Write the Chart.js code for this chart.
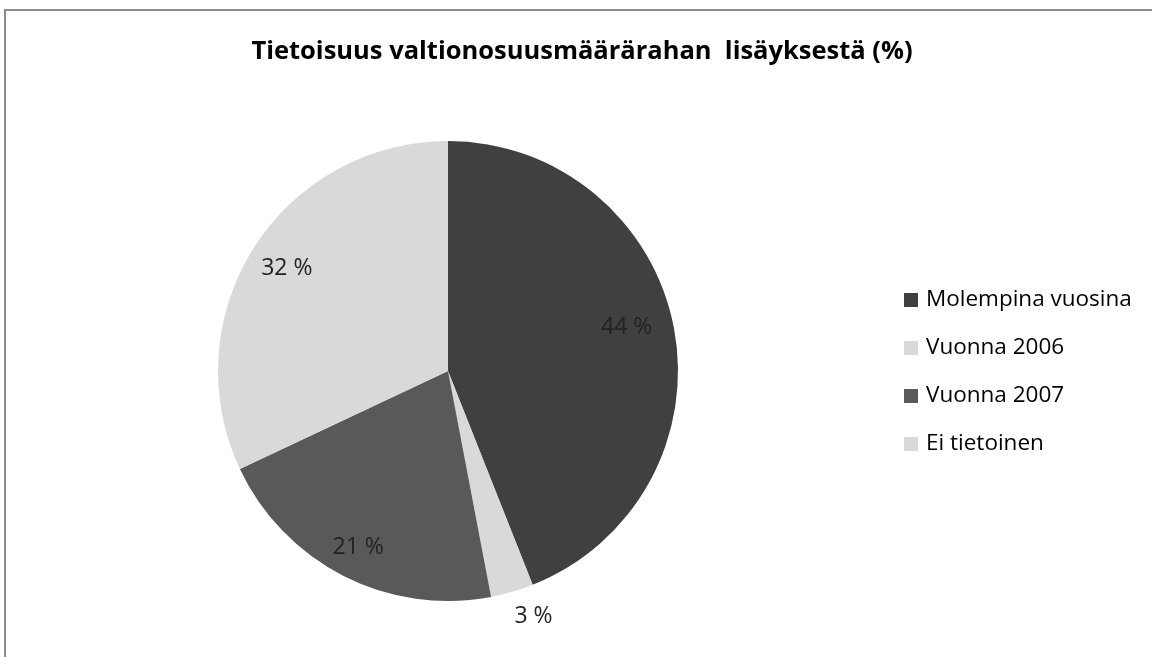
<!DOCTYPE html>
<html>
<head>
<meta charset="utf-8">
<script src="https://cdn.jsdelivr.net/npm/chart.js@4.4.1/dist/chart.umd.min.js"></script>
<style>
  html, body { margin: 0; padding: 0; background: #fff; overflow: hidden; }
  #wrap { position: absolute; left: 0; top: 0; width: 1152px; height: 657px; }
  #frame { position: absolute; left: 4px; top: 9px; width: 1300px; height: 800px;
           border-left: 2px solid #8c8c8c; border-top: 2px solid #8c8c8c; pointer-events: none; }
</style>
</head>
<body>
<div id="wrap">
  <canvas id="c" width="1152" height="657"></canvas>
  <div id="frame"></div>
</div>
<script>
const titleText = 'Tietoisuus valtionosuusmäärärahan  lisäyksestä (%)';
const categories = ['Molempina vuosina', 'Vuonna 2006', 'Vuonna 2007', 'Ei tietoinen'];
const values = [44, 3, 21, 32];
const colors = ['#404040', '#d9d9d9', '#595959', '#d9d9d9'];
const labelRadius = [0.80, 1.13, 0.86, 0.83];
const labelAngleShift = [-3, -3, 0, 0];

const FONT = '"Open Sans", Lato, sans-serif';

const titlePlugin = {
  id: 'customTitle',
  afterDraw(chart) {
    const ctx = chart.ctx;
    ctx.save();
    ctx.font = 'bold 25.5px ' + FONT;
    ctx.fillStyle = '#000';
    ctx.textAlign = 'center';
    ctx.textBaseline = 'alphabetic';
    ctx.fillText(titleText, 582, 59);
    ctx.restore();
  }
};

const labelPlugin = {
  id: 'sliceLabels',
  afterDatasetsDraw(chart) {
    const ctx = chart.ctx;
    const meta = chart.getDatasetMeta(0);
    ctx.save();
    ctx.font = '23px ' + FONT;
    ctx.fillStyle = '#222';
    ctx.textAlign = 'center';
    ctx.textBaseline = 'middle';
    meta.data.forEach((arc, i) => {
      const mid = (arc.startAngle + arc.endAngle) / 2 + labelAngleShift[i] * Math.PI / 180;
      const r = arc.outerRadius * labelRadius[i];
      const x = arc.x + Math.cos(mid) * r;
      const y = arc.y + Math.sin(mid) * r;
      ctx.fillText(values[i] + ' %', x, y);
    });
    ctx.restore();
  }
};

const legendPlugin = {
  id: 'customLegend',
  afterDraw(chart) {
    const ctx = chart.ctx;
    ctx.save();
    ctx.font = '22.5px ' + FONT;
    ctx.textBaseline = 'alphabetic';
    ctx.textAlign = 'left';
    categories.forEach((name, i) => {
      const base = 306 + i * 48;
      ctx.fillStyle = colors[i];
      ctx.fillRect(904, base - 13, 14, 14);
      ctx.fillStyle = '#000';
      ctx.fillText(name, 926, base);
    });
    ctx.restore();
  }
};

function build() {
  new Chart(document.getElementById('c'), {
    type: 'pie',
    data: {
      labels: categories,
      datasets: [{
        data: values,
        backgroundColor: colors,
        borderWidth: 0
      }]
    },
    options: {
      responsive: false,
      animation: false,
      layout: { padding: { left: 218, right: 474, top: 141, bottom: 56 } },
      plugins: {
        legend: { display: false },
        tooltip: { enabled: false },
        title: { display: false }
      }
    },
    plugins: [titlePlugin, labelPlugin, legendPlugin]
  });
}

Promise.all([
  document.fonts.load('bold 26px "Open Sans"'),
  document.fonts.load('23px "Open Sans"')
]).then(build, build);
</script>
</body>
</html>
